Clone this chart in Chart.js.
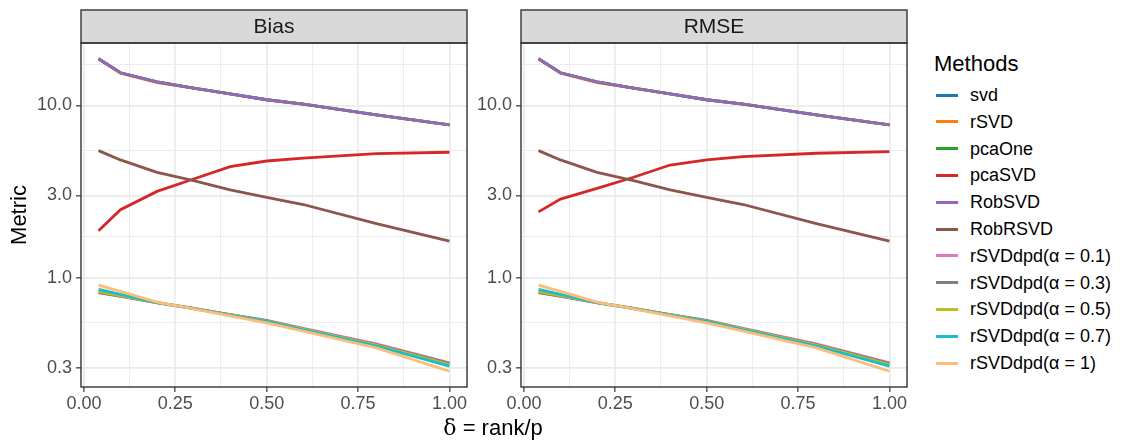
<!DOCTYPE html>
<html>
<head>
<meta charset="utf-8">
<script src="https://cdn.jsdelivr.net/npm/chart.js@4.4.0/dist/chart.umd.min.js"></script>
<style>
  body { margin: 0; background: #fff; font-family: "Liberation Sans", Arial, sans-serif; }
  #wrap { position: relative; width: 1126px; height: 442px; overflow: hidden; }
  canvas { position: absolute; top: 0; }
  #bias-chart { left: 0; }
  #rmse-chart { left: 470px; }
  #x-title { position: absolute; left: 393px; width: 200px; top: 414px; text-align: center;
             font-size: 22px; line-height: 28px; color: #000; white-space: nowrap; }
  #x-title .sym { font-family: "DejaVu Serif", serif; }
  .leg-title { position: absolute; left: 934px; top: 51px; font-size: 22px; line-height: 26px; color: #000; }
  .leg-key { position: absolute; left: 936px; width: 22px; height: 3px; }
  .leg-label { position: absolute; left: 970px; font-size: 18px; line-height: 22px; color: #000; white-space: nowrap; }
</style>
</head>
<body>
<div id="wrap">
  <canvas id="bias-chart" width="470" height="442"></canvas>
  <canvas id="rmse-chart" width="440" height="442"></canvas>
  <div id="x-title"><span class="sym">δ</span> = rank/p</div>
  <div id="legend"></div>
</div>
<script>
// delta = rank / p
const deltas = [0.04, 0.1, 0.2, 0.3, 0.4, 0.5, 0.6, 0.8, 1.0];

const methods = ['svd', 'rSVD', 'pcaOne', 'pcaSVD', 'RobSVD', 'RobRSVD',
  'rSVDdpd(α = 0.1)', 'rSVDdpd(α = 0.3)', 'rSVDdpd(α = 0.5)', 'rSVDdpd(α = 0.7)', 'rSVDdpd(α = 1)'];
const colours = ['#1f77b4', '#ff7f0e', '#2ca02c', '#d62728', '#9467bd', '#8c564b',
  '#e377c2', '#7f7f7f', '#bcbd22', '#17becf', '#ffbb78'];

// Bias
const biasSvd      = [18.7, 15.5, 13.7, 12.6, 11.7, 10.8, 10.2, 8.83, 7.72];
const biasRsvd     = [18.6, 15.4, 13.6, 12.6, 11.7, 10.8, 10.2, 8.83, 7.72];
const biasPcaOne   = [18.7, 15.5, 13.7, 12.6, 11.7, 10.8, 10.2, 8.83, 7.72];
const biasPcaSvd   = [1.87, 2.48, 3.17, 3.74, 4.41, 4.76, 4.95, 5.25, 5.35];
const biasRobSvd   = [18.7, 15.5, 13.7, 12.6, 11.7, 10.8, 10.2, 8.83, 7.72];
const biasRobRsvd  = [5.47, 4.83, 4.09, 3.66, 3.24, 2.93, 2.66, 2.06, 1.63];
const biasDpd01    = [0.818, 0.778, 0.715, 0.663, 0.610, 0.565, 0.508, 0.412, 0.320];
const biasDpd03    = [0.820, 0.780, 0.716, 0.663, 0.609, 0.562, 0.505, 0.409, 0.318];
const biasDpd05    = [0.830, 0.787, 0.716, 0.662, 0.607, 0.560, 0.502, 0.406, 0.313];
const biasDpd07    = [0.855, 0.800, 0.717, 0.661, 0.605, 0.555, 0.498, 0.401, 0.306];
const biasDpd1     = [0.906, 0.832, 0.721, 0.658, 0.600, 0.547, 0.489, 0.391, 0.286];

// RMSE
const rmseSvd      = [18.7, 15.5, 13.7, 12.6, 11.7, 10.8, 10.2, 8.83, 7.72];
const rmseRsvd     = [18.6, 15.4, 13.6, 12.6, 11.7, 10.8, 10.2, 8.83, 7.72];
const rmsePcaOne   = [18.7, 15.5, 13.7, 12.6, 11.7, 10.8, 10.2, 8.83, 7.72];
const rmsePcaSvd   = [2.41, 2.86, 3.30, 3.83, 4.51, 4.83, 5.05, 5.28, 5.39];
const rmseRobSvd   = [18.7, 15.5, 13.7, 12.6, 11.7, 10.8, 10.2, 8.83, 7.72];
const rmseRobRsvd  = [5.47, 4.83, 4.09, 3.66, 3.24, 2.93, 2.66, 2.06, 1.63];
const rmseDpd01    = [0.818, 0.778, 0.715, 0.663, 0.610, 0.565, 0.508, 0.412, 0.320];
const rmseDpd03    = [0.820, 0.780, 0.716, 0.663, 0.609, 0.562, 0.505, 0.409, 0.318];
const rmseDpd05    = [0.830, 0.787, 0.716, 0.662, 0.607, 0.560, 0.502, 0.406, 0.313];
const rmseDpd07    = [0.855, 0.800, 0.717, 0.661, 0.605, 0.555, 0.498, 0.401, 0.306];
const rmseDpd1     = [0.906, 0.832, 0.721, 0.658, 0.600, 0.547, 0.489, 0.391, 0.286];

// axis breaks; the empty labels are the minor grid lines
const xTicks = [0, 0.125, 0.25, 0.375, 0.5, 0.625, 0.75, 0.875, 1];
const xLabels = ['0.00', '', '0.25', '', '0.50', '', '0.75', '', '1.00'];
const yTicks = [0.3, 0.5477, 1, 1.732, 3, 5.477, 10, 17.32];
const yLabels = ['0.3', '', '1.0', '', '3.0', '', '10.0', ''];

const biasSeries = [biasSvd, biasRsvd, biasPcaOne, biasPcaSvd, biasRobSvd, biasRobRsvd,
  biasDpd01, biasDpd03, biasDpd05, biasDpd07, biasDpd1];
const rmseSeries = [rmseSvd, rmseRsvd, rmsePcaOne, rmsePcaSvd, rmseRobSvd, rmseRobRsvd,
  rmseDpd01, rmseDpd03, rmseDpd05, rmseDpd07, rmseDpd1];

Chart.defaults.font.family = '"Liberation Sans", Arial, sans-serif';

// grey strip on top of each panel plus the dark panel border
const panelFrame = {
  id: 'panelFrame',
  afterDraw(chart, args, opts) {
    const { ctx, chartArea: a } = chart;
    const w = a.right - a.left;
    ctx.save();
    ctx.fillStyle = '#d9d9d9';
    ctx.fillRect(a.left, 10, w, a.top - 10);
    ctx.strokeStyle = '#333333';
    ctx.lineWidth = 1.4;
    ctx.strokeRect(a.left, 10, w, a.top - 10);
    ctx.strokeRect(a.left, a.top, w, a.bottom - a.top);
    ctx.fillStyle = '#1a1a1a';
    ctx.font = '21px "Liberation Sans", Arial, sans-serif';
    ctx.textAlign = 'center';
    ctx.textBaseline = 'middle';
    ctx.fillText(opts.label, a.left + w / 2, (10 + a.top) / 2 + 1);
    ctx.restore();
  }
};

const isMinor = (labels, i) => labels[i] === '';

function makePanel(canvasId, label, series, yWidth, showYTitle) {
  const datasets = series.map((vals, i) => ({
    label: methods[i],
    data: deltas.map((d, j) => ({ x: d, y: vals[j] })),
    borderColor: colours[i],
    backgroundColor: colours[i],
    borderWidth: 2.8,
    pointRadius: 0,
    tension: 0,
    fill: false,
    // later methods are drawn on top
    order: methods.length - i
  }));

  return new Chart(document.getElementById(canvasId), {
    type: 'line',
    data: { datasets },
    options: {
      responsive: false,
      animation: false,
      events: [],
      layout: { autoPadding: false, padding: { left: 0, right: 3, top: 43, bottom: 0 } },
      plugins: {
        legend: { display: false },
        tooltip: { enabled: false },
        panelFrame: { label }
      },
      scales: {
        x: {
          type: 'linear',
          bounds: 'data',
          min: -0.008,
          max: 1.048,
          afterBuildTicks: s => { s.ticks = xTicks.map(v => ({ value: v })); },
          afterFit: s => { s.height = 55; },
          ticks: {
            callback: (v, i) => xLabels[i],
            autoSkip: false,
            maxRotation: 0,
            color: '#4d4d4d',
            font: { size: 18 },
            padding: 1
          },
          grid: {
            color: '#ebebeb',
            lineWidth: c => isMinor(xLabels, c.index) ? 0.9 : 1.7,
            tickLength: 5,
            tickWidth: 1.2,
            tickColor: c => isMinor(xLabels, c.index) ? 'rgba(0,0,0,0)' : '#333333'
          },
          border: { display: false }
        },
        y: {
          type: 'logarithmic',
          bounds: 'data',
          min: 0.2317,
          max: 23.07,
          afterBuildTicks: s => { s.ticks = yTicks.map(v => ({ value: v })); },
          afterFit: s => { s.width = yWidth; },
          ticks: {
            callback: (v, i) => yLabels[i],
            autoSkip: false,
            color: '#4d4d4d',
            font: { size: 18 },
            padding: 4
          },
          grid: {
            color: '#ebebeb',
            lineWidth: c => isMinor(yLabels, c.index) ? 0.9 : 1.7,
            tickLength: 5,
            tickWidth: 1.2,
            tickColor: c => isMinor(yLabels, c.index) ? 'rgba(0,0,0,0)' : '#333333'
          },
          border: { display: false },
          title: {
            display: showYTitle,
            text: 'Metric',
            color: '#000',
            font: { size: 22 },
            padding: { top: 7, bottom: 0 }
          }
        }
      }
    },
    plugins: [panelFrame]
  });
}

makePanel('bias-chart', 'Bias', biasSeries, 81, true);
makePanel('rmse-chart', 'RMSE', rmseSeries, 51, false);

// legend
const legend = document.getElementById('legend');
let html = '<div class="leg-title">Methods</div>';
methods.forEach((m, i) => {
  const cy = 95 + i * 26.8;
  html += `<div class="leg-key" style="top:${cy - 1.5}px;background:${colours[i]}"></div>`;
  html += `<div class="leg-label" style="top:${cy - 11}px">${m}</div>`;
});
legend.innerHTML = html;
</script>
</body>
</html>
